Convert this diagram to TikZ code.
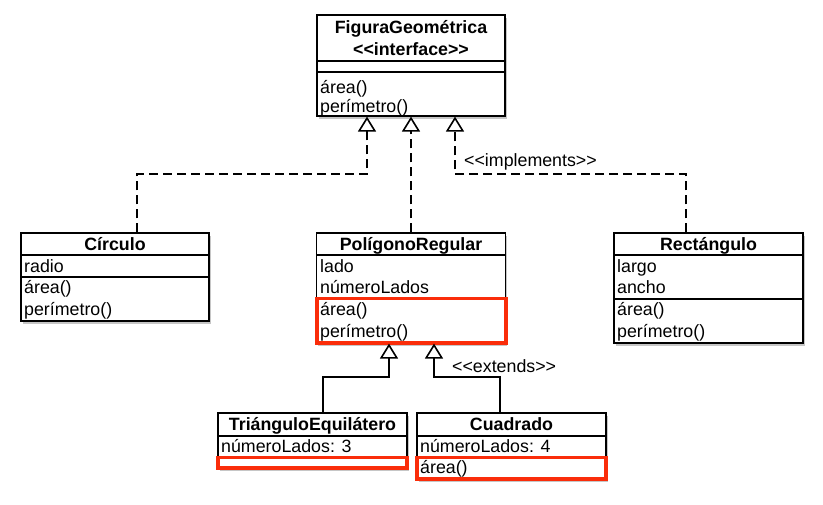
\documentclass[tikz,border=0pt]{standalone}
\usepackage{fontspec}
\setmainfont{Liberation Sans}
\usetikzlibrary{arrows.meta,shadows,calc}
\definecolor{redhl}{RGB}{250,45,10}
\newcommand{\dlt}{<\kern0pt<}
\newcommand{\dgt}{>\kern0pt>}
\begin{document}
\begin{tikzpicture}[x=1pt,y=-1pt,
  cls/.style={draw=black, line width=1.2pt, fill=white, inner sep=0pt,
    drop shadow={shadow xshift=1.5pt, shadow yshift=-3pt, opacity=0.45}},
  sep/.style={draw=black, line width=1.1pt},
  txt/.style={anchor=west, inner sep=0pt, font=\fontsize{17.8}{21}\selectfont, text height=13pt, text depth=3.5pt},
  ttl/.style={inner sep=0pt, font=\fontsize{17.8}{21}\selectfont\bfseries, text height=13pt, text depth=3.5pt},
  lbl/.style={anchor=west, inner sep=0pt, font=\fontsize{17.8}{21}\selectfont, text height=13pt, text depth=3.5pt},
  redbox/.style={draw=redhl, line width=3.5pt},
  impl/.style={draw=black, line width=2pt, dash pattern=on 9pt off 5pt, -{Triangle[open, length=15pt, width=18pt, line width=1.6pt]}},
  ext/.style={draw=black, line width=2pt, -{Triangle[open, length=15pt, width=18pt, line width=1.6pt]}}]
\useasboundingbox (0,0) rectangle (823,504);

% class boxes
\node[cls, minimum width=188pt, minimum height=101pt] (fig) at (411,65.5) {};
\node[cls, minimum width=188pt, minimum height=88pt] (circ) at (115,277) {};
\node[cls, minimum width=189pt, minimum height=110pt] (poly) at (411,288) {};
\node[cls, minimum width=189pt, minimum height=110pt] (rect) at (708.5,288) {};
\node[cls, minimum width=189pt, minimum height=55pt] (tri) at (312.5,440.5) {};
\node[cls, minimum width=189pt, minimum height=66pt] (cuad) at (511.5,446) {};

% separators
\draw[sep] (317,61) -- (505,61);
\draw[sep] (317,72) -- (505,72);
\draw[sep] (21,255) -- (209,255);
\draw[sep] (21,277) -- (209,277);
\draw[sep] (316.5,255) -- (505.5,255);
\draw[sep] (614,255) -- (803,255);
\draw[sep] (614,299) -- (803,299);
\draw[sep] (218,436) -- (407,436);
\draw[sep] (417,436) -- (606,436);

% texts
\node[ttl] (figt1) at (411,29) {FiguraGeométrica};
\node[ttl] (figt2) at (411,51) {\dlt interface\dgt};
\node[txt] (figm1) at (320,89) {área()};
\node[txt] (figm2) at (320,108) {perímetro()};

\node[ttl] (circt) at (115,246) {Círculo};
\node[txt] (circa) at (24,268) {radio};
\node[txt] (circm1) at (24,289) {área()};
\node[txt] (circm2) at (24,311) {perímetro()};

\node[ttl] (polyt) at (411,246) {PolígonoRegular};
\node[txt] (polya1) at (320,268) {lado};
\node[txt] (polya2) at (320,289) {númeroLados};
\node[txt] (polym1) at (320,311) {área()};
\node[txt] (polym2) at (320,333) {perímetro()};

\node[ttl] (rectt) at (708.5,246) {Rectángulo};
\node[txt] (recta1) at (617,268) {largo};
\node[txt] (recta2) at (617,289) {ancho};
\node[txt] (rectm1) at (617,311) {área()};
\node[txt] (rectm2) at (617,333) {perímetro()};

\node[ttl] (trit) at (312.5,426) {TriánguloEquilátero};
\node[txt] (tria) at (221,448) {númeroLados: 3};

\node[ttl] (cuadt) at (511.5,426) {Cuadrado};
\node[txt] (cuada) at (420,448) {númeroLados: 4};
\node[txt] (cuadm) at (420,469) {área()};

% red highlight boxes
\draw[redbox] (317,298.5) rectangle (506,343);
\draw[redbox] (218,457.5) rectangle (407,468);
\draw[redbox] (417,457.5) rectangle (606,479);

% connectors
\draw[impl] ([xshift=22pt]circ.north) -- ++(0,-58) -| ([xshift=-44pt]fig.south);
\draw[impl] (poly.north) -- (fig.south);
\draw[impl] ([xshift=-22.5pt]rect.north) -- ++(0,-58) -| ([xshift=44pt]fig.south);
\draw[ext] ([xshift=10.5pt]tri.north) -- ++(0,-35) -| ([xshift=-22pt]poly.south);
\draw[ext] ([xshift=-11.5pt]cuad.north) -- ++(0,-35) -| ([xshift=23pt]poly.south);

% labels
\node[lbl] (implbl) at (464,162) {\dlt implements\dgt};
\node[lbl] (extlbl) at (452,368) {\dlt extends\dgt};
\end{tikzpicture}
\end{document}
